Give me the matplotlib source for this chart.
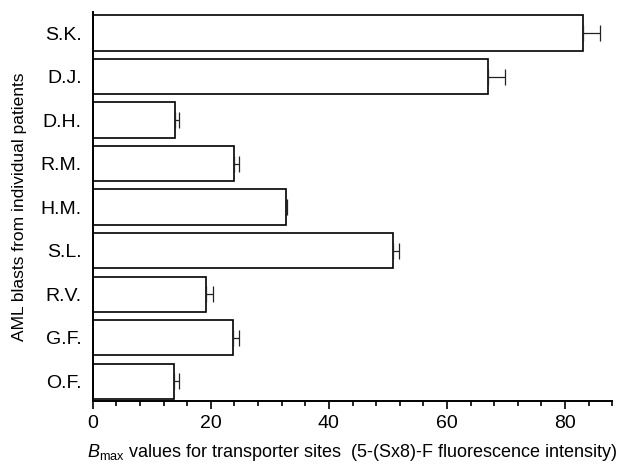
import numpy as np
import matplotlib
matplotlib.use("Agg")
import matplotlib.pyplot as plt
import matplotlib.ticker as tck

# Bmax per patient (bottom to top as drawn) with upper error
patients = ["O.F.", "G.F.", "R.V.", "S.L.", "H.M.", "R.M.", "D.H.", "D.J.", "S.K."]
bmax = [13.7, 23.7, 19.2, 50.9, 32.7, 23.9, 14.0, 67.0, 83.0]
bmax_err = [0.9, 1.1, 1.2, 1.0, 0.2, 0.9, 0.6, 2.9, 2.9]

plt.rcParams['font.family'] = ['Liberation Sans', 'DejaVu Sans']
plt.rcParams['mathtext.fontset'] = 'custom'
plt.rcParams['mathtext.rm'] = 'Liberation Sans'
plt.rcParams['mathtext.it'] = 'Liberation Sans:italic'

fig = plt.figure(figsize=(6.19, 4.66), dpi=100)
ax = fig.add_axes([0.150, 0.139, 0.839, 0.835])

ypos = np.arange(len(patients))
ax.barh(ypos, bmax, height=0.81, color='white', edgecolor='black', linewidth=1.2,
        xerr=[np.zeros(len(bmax)), bmax_err],
        error_kw=dict(ecolor='#222222', elinewidth=0.9, capsize=6, capthick=0.9))

ax.set_xlim(0, 88)
ax.set_ylim(-0.46, len(patients) - 0.52)
ax.set_yticks(ypos)
ax.set_yticklabels(patients, fontsize=14)
ax.tick_params(axis='y', length=0, pad=8)

ax.xaxis.set_major_locator(tck.MultipleLocator(20))
ax.xaxis.set_minor_locator(tck.MultipleLocator(4))
ax.tick_params(axis='x', which='major', direction='out', length=6, width=1.2,
               labelsize=14, pad=4)
ax.tick_params(axis='x', which='minor', direction='out', length=3.5, width=1.2)

for side in ['top', 'right']:
    ax.spines[side].set_visible(False)
for side in ['left', 'bottom']:
    ax.spines[side].set_linewidth(1.4)

ax.set_xlabel(r'$B_{\rm max}$ values for transporter sites  (5-(Sx8)-F fluorescence intensity)',
              fontsize=13, labelpad=7)
ax.set_ylabel('AML blasts from individual patients', fontsize=12.5, labelpad=10)

fig.savefig('out.png', dpi=100)
